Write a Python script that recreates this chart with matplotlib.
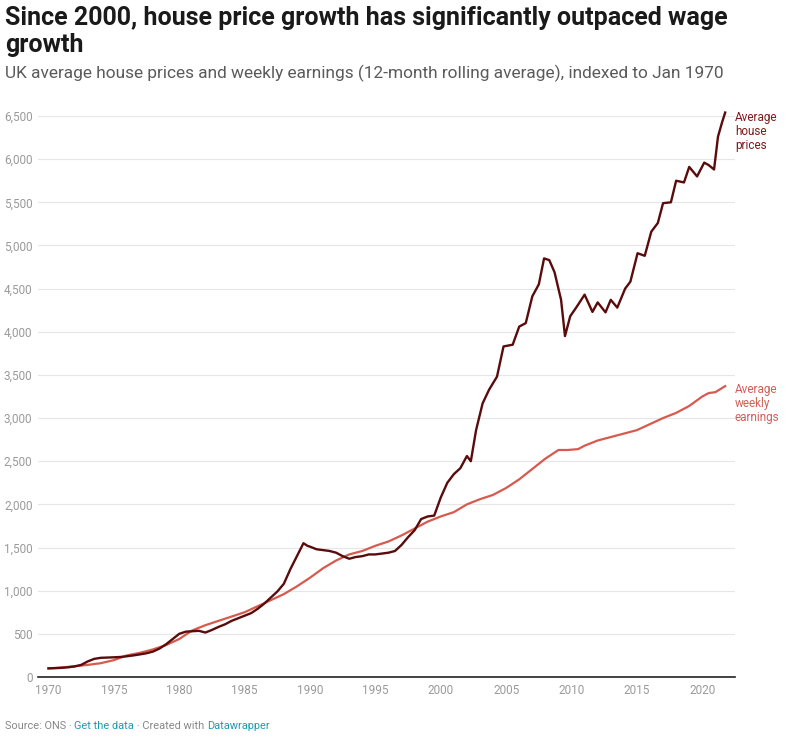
import matplotlib
matplotlib.use("Agg")
import matplotlib.pyplot as plt

# ===================== DATA =====================
house_years = [1970.0, 1970.5, 1971.0, 1971.5, 1972.0, 1972.5, 1973.0, 1973.5, 1974.0, 1974.5,
               1975.0, 1975.5, 1976.0, 1976.5, 1977.0, 1977.5, 1978.0, 1978.5, 1979.0, 1979.5,
               1980.0, 1980.5, 1981.0, 1981.5, 1982.0, 1982.5, 1983.0, 1983.5, 1984.0, 1984.5,
               1985.0, 1985.5, 1986.0, 1986.5, 1987.0, 1987.5, 1988.0, 1988.5, 1989.0, 1989.5,
               1989.8, 1990.0, 1990.5, 1991.0, 1991.5, 1992.0, 1992.5, 1993.0, 1993.5, 1994.0,
               1994.5, 1995.0, 1995.5, 1996.0, 1996.5, 1997.0, 1997.5, 1998.0, 1998.5, 1999.0,
               1999.5, 2000.0, 2000.5, 2001.0, 2001.5, 2002.0, 2002.3, 2002.7, 2003.2, 2003.7,
               2004.3, 2004.8, 2005.5, 2006.0, 2006.5, 2007.0, 2007.5, 2007.9, 2008.3, 2008.7,
               2009.2, 2009.5, 2009.9, 2010.4, 2011.0, 2011.6, 2012.0, 2012.6, 2013.0, 2013.5,
               2014.1, 2014.5, 2015.05, 2015.6, 2016.1, 2016.6, 2017.0, 2017.6, 2018.0, 2018.6,
               2019.0, 2019.6, 2020.15, 2020.5, 2020.9, 2021.2, 2021.5, 2021.75]
house_index = [100, 102, 106, 112, 122, 140, 180, 210, 222, 225,
               228, 232, 240, 250, 262, 275, 295, 330, 380, 440,
               500, 525, 530, 535, 515, 545, 580, 610, 650, 680,
               710, 740, 790, 850, 920, 990, 1080, 1250, 1400, 1550,
               1520, 1510, 1480, 1470, 1460, 1440, 1400, 1370, 1390, 1400,
               1420, 1420, 1430, 1440, 1460, 1530, 1620, 1700, 1830, 1860,
               1870, 2080, 2250, 2350, 2420, 2560, 2500, 2860, 3170, 3330,
               3480, 3830, 3850, 4060, 4100, 4410, 4550, 4850, 4830, 4690,
               4370, 3950, 4180, 4290, 4430, 4230, 4340, 4225, 4370, 4280,
               4500, 4580, 4910, 4880, 5160, 5260, 5490, 5500, 5750, 5730,
               5910, 5800, 5960, 5930, 5880, 6260, 6420, 6540]

earn_years = [1970, 1971, 1972, 1973, 1974, 1975, 1976, 1977, 1978, 1979,
              1980, 1981, 1982, 1983, 1984, 1985, 1986, 1987, 1988, 1989,
              1990, 1991, 1992, 1993, 1994, 1995, 1996, 1997, 1998, 1999,
              2000, 2001, 2002, 2003, 2004, 2005, 2006, 2007, 2008, 2009,
              2009.7, 2010.5, 2011, 2012, 2013, 2014, 2015, 2016, 2017, 2018,
              2019, 2020, 2020.5, 2021, 2021.75]
earn_index = [100, 110, 125, 140, 160, 195, 250, 280, 320, 370,
              440, 540, 600, 650, 700, 750, 820, 890, 960, 1050,
              1150, 1260, 1350, 1420, 1460, 1520, 1570, 1640, 1720, 1800,
              1860, 1910, 2000, 2060, 2110, 2190, 2290, 2410, 2530, 2630,
              2630, 2640, 2680, 2740, 2780, 2820, 2860, 2930, 3000, 3060,
              3140, 3250, 3290, 3300, 3370]

y_ticks = list(range(0, 7000, 500))
x_ticks = list(range(1970, 2025, 5))

# ===================== STYLE =====================
HOUSE_COL = "#5a0b0b"
EARN_COL = "#d65a4e"
GREY = "#9a9a9a"
plt.rcParams["font.family"] = ["Roboto", "DejaVu Sans"]

fig = plt.figure(figsize=(7.92, 7.45), dpi=100)
ax = fig.add_axes([0.048, 0.0913, 0.880, 0.753])

ax.plot(earn_years, earn_index, color=EARN_COL, lw=1.6, clip_on=False, zorder=3)
ax.plot(house_years, house_index, color=HOUSE_COL, lw=1.7, clip_on=False, zorder=4)

ax.set_xlim(1969.2, 2022.5)
ax.set_ylim(0, 6500)
ax.set_yticks(y_ticks)
ax.set_yticklabels([f"{v:,}" for v in y_ticks])
ax.set_xticks(x_ticks)
ax.tick_params(axis="y", length=0, pad=4, labelsize=8.5, colors=GREY)
ax.tick_params(axis="x", length=0, pad=5, labelsize=8.5, colors=GREY)

for s in ["top", "right", "left"]:
    ax.spines[s].set_visible(False)
ax.spines["bottom"].set_color("#222222")
ax.spines["bottom"].set_linewidth(1.2)
ax.grid(axis="y", color="#e6e6e6", lw=0.8)
ax.set_axisbelow(True)

# line labels on the right
ax.text(2022.5, 6560, "Average\nhouse\nprices", color="#7d1a1a", fontsize=8.5,
        va="top", ha="left", linespacing=1.1)
ax.text(2022.5, 3410, "Average\nweekly\nearnings", color="#cf5f57", fontsize=8.5,
        va="top", ha="left", linespacing=1.1)

# ===================== TITLES =====================
fig.text(0.006, 0.966, "Since 2000, house price growth has significantly outpaced wage",
         fontsize=18, fontweight="bold", color="#1a1a1a", va="baseline")
fig.text(0.006, 0.930, "growth", fontsize=18, fontweight="bold", color="#1a1a1a", va="baseline")
fig.text(0.006, 0.895, "UK average house prices and weekly earnings (12-month rolling average), indexed to Jan 1970",
         fontsize=12.4, color="#5a5a5a", va="baseline")

# ===================== FOOTER =====================
fig.canvas.draw()
renderer = fig.canvas.get_renderer()
x = 0.006
parts = [("Source: ONS · ", "#888888"), ("Get the data", "#1d9bb5"),
         (" · Created with ", "#888888"), ("Datawrapper", "#1d9bb5")]
for txt, col in parts:
    t = fig.text(x, 0.022, txt, fontsize=7.9, color=col, va="baseline")
    bb = t.get_window_extent(renderer=renderer)
    x += bb.width / fig.bbox.width

fig.savefig("out.png", dpi=100)
